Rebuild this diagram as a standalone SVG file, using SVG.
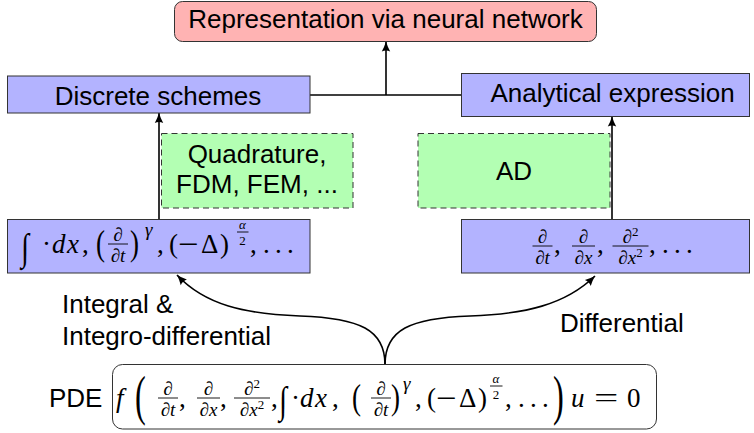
<svg xmlns="http://www.w3.org/2000/svg" width="754" height="433" viewBox="0 0 754 433">
<defs>
<style>
.blue{fill:#b3b3ff;stroke:#333;stroke-width:1}
.green{fill:#b3ffb3;stroke:#333;stroke-width:1;stroke-dasharray:6 4}
.red{fill:#ffb3b3;stroke:#333;stroke-width:1}
.pdebox{fill:#fff;stroke:#333;stroke-width:1}
.t{font-family:"Liberation Sans",Arial,sans-serif;font-size:26px;fill:#000}
.m{font-family:"Liberation Serif","DejaVu Serif",serif;font-size:27px;fill:#000}
.i{font-style:italic}
.sc{font-size:19px}
.ssc{font-size:13px}
.int{font-size:38px}
.p1{font-size:54px}
.p2{font-size:36px}
.bar{stroke:#000;stroke-width:0.9}
.conn{fill:none;stroke:#000;stroke-width:1.6}
</style>
<marker id="ah" viewBox="0 0 10 10" refX="10" refY="5" markerWidth="11" markerHeight="10" markerUnits="userSpaceOnUse" orient="auto">
<path d="M0,0.8 Q5,3.5 10,5 Q5,6.5 0,9.2 Q2,5 0,0.8 z" fill="#000"/>
</marker>
</defs>

<g id="connectors">
<path class="conn" d="M310,95 H461.5"/>
<path class="conn" d="M386,95 V41.5" marker-end="url(#ah)"/>
<path class="conn" d="M159,219.5 V113" marker-end="url(#ah)"/>
<path class="conn" d="M612,219.5 V116.5" marker-end="url(#ah)"/>
<path class="conn" d="M385,364.5 C385,330 360,318 300,316 C245,314 205,305 177,275" marker-end="url(#ah)"/>
<path class="conn" d="M385,364.5 C385,330 410,318 470,316 C525,314 565,305 595,276" marker-end="url(#ah)"/>
</g>

<g id="node-nn">
<rect class="red" x="174.5" y="1.5" width="422" height="40" rx="8"/>
<text class="t" x="385.5" y="27.5" text-anchor="middle">Representation via neural network</text>
</g>

<g id="node-discrete">
<rect class="blue" x="7.5" y="76" width="302.5" height="37"/>
<text class="t" x="158" y="105" text-anchor="middle">Discrete schemes</text>
</g>

<g id="node-analytical">
<rect class="blue" x="461.5" y="73.5" width="288" height="43"/>
<text class="t" x="612.5" y="102" text-anchor="middle">Analytical expression</text>
</g>

<g id="node-quadrature">
<rect class="green" x="161.5" y="133.5" width="191.5" height="74.5"/>
<text class="t" x="257" y="163" text-anchor="middle">Quadrature,</text>
<text class="t" x="257" y="193" text-anchor="middle">FDM, FEM, ...</text>
</g>

<g id="node-ad">
<rect class="green" x="418" y="133.5" width="192" height="74.5"/>
<text class="t" x="514" y="180" text-anchor="middle">AD</text>
</g>

<g id="node-integral-ops">
<rect class="blue" x="7.5" y="219.5" width="302.5" height="53.5"/>
<text class="m int" transform="translate(21 260) scale(0.75 1)">∫</text>
<text class="m" x="42" y="253">·</text>
<text class="m i" x="52" y="253">d</text>
<text class="m i" x="67" y="253">x</text>
<text class="m" x="82" y="253">,</text>
<text class="m p2" transform="translate(96 255) scale(0.75 1)">(</text>
<text class="m i sc" x="118" y="240.5" text-anchor="middle">∂</text>
<line class="bar" x1="108" y1="244" x2="128" y2="244"/>
<text class="m i sc" x="118" y="262" text-anchor="middle">∂t</text>
<text class="m p2" transform="translate(130 255) scale(0.75 1)">)</text>
<text class="m i sc" x="145" y="236">γ</text>
<text class="m" x="157" y="253">,</text>
<text class="m" x="169" y="253">(</text>
<text class="m" transform="translate(178 253) scale(1.35 1)">−</text>
<text class="m" x="201" y="253">Δ</text>
<text class="m" x="220" y="253">)</text>
<text class="m i ssc" x="242.5" y="228.5" text-anchor="middle">α</text>
<line class="bar" x1="237" y1="232" x2="248.5" y2="232"/>
<text class="m ssc" x="242.5" y="245" text-anchor="middle">2</text>
<text class="m" x="250" y="253">,</text>
<text class="m" x="263" y="253">.</text>
<text class="m" x="275" y="253">.</text>
<text class="m" x="287" y="253">.</text>
</g>

<g id="node-diff-ops">
<rect class="blue" x="461.5" y="219.5" width="288" height="53.5"/>
<text class="m i sc" x="542.5" y="242.5" text-anchor="middle">∂</text>
<line class="bar" x1="532.5" y1="246" x2="552.5" y2="246"/>
<text class="m i sc" x="542.5" y="264" text-anchor="middle">∂t</text>
<text class="m" x="554" y="253">,</text>
<text class="m i sc" x="583.5" y="242.5" text-anchor="middle">∂</text>
<line class="bar" x1="572" y1="246" x2="595" y2="246"/>
<text class="m i sc" x="583.5" y="264" text-anchor="middle">∂x</text>
<text class="m" x="597" y="253">,</text>
<text class="m sc" x="630.5" y="242.5" text-anchor="middle"><tspan class="i">∂</tspan><tspan class="ssc" dy="-7">2</tspan></text>
<line class="bar" x1="612.5" y1="246" x2="648.5" y2="246"/>
<text class="m sc" x="630.5" y="264" text-anchor="middle"><tspan class="i">∂x</tspan><tspan class="ssc" dy="-7">2</tspan></text>
<text class="m" x="649" y="253">,</text>
<text class="m" x="662" y="253">.</text>
<text class="m" x="674" y="253">.</text>
<text class="m" x="686" y="253">.</text>
</g>

<g id="node-pde">
<text class="t" x="49" y="407">PDE</text>
<rect class="pdebox" x="112.5" y="364.5" width="544" height="64.5" rx="10"/>
<text class="m i" x="116" y="407">f</text>
<text class="m p1" transform="translate(135 413.5) scale(0.6 1)">(</text>
<text class="m i sc" x="168" y="394.5" text-anchor="middle">∂</text>
<line class="bar" x1="158" y1="398" x2="178" y2="398"/>
<text class="m i sc" x="168" y="416" text-anchor="middle">∂t</text>
<text class="m" x="179" y="407">,</text>
<text class="m i sc" x="208.5" y="394.5" text-anchor="middle">∂</text>
<line class="bar" x1="197" y1="398" x2="220" y2="398"/>
<text class="m i sc" x="208.5" y="416" text-anchor="middle">∂x</text>
<text class="m" x="220" y="407">,</text>
<text class="m sc" x="252" y="394.5" text-anchor="middle"><tspan class="i">∂</tspan><tspan class="ssc" dy="-7">2</tspan></text>
<line class="bar" x1="234" y1="398" x2="270" y2="398"/>
<text class="m sc" x="252" y="416" text-anchor="middle"><tspan class="i">∂x</tspan><tspan class="ssc" dy="-7">2</tspan></text>
<text class="m" x="271" y="407">,</text>
<text class="m int" transform="translate(279 413) scale(0.75 1)">∫</text>
<text class="m" x="291" y="407">·</text>
<text class="m i" x="300" y="407">d</text>
<text class="m i" x="315" y="407">x</text>
<text class="m" x="332" y="407">,</text>
<text class="m p2" transform="translate(352 409) scale(0.75 1)">(</text>
<text class="m i sc" x="381" y="394.5" text-anchor="middle">∂</text>
<line class="bar" x1="371" y1="398" x2="391" y2="398"/>
<text class="m i sc" x="381" y="416" text-anchor="middle">∂t</text>
<text class="m p2" transform="translate(391 409) scale(0.75 1)">)</text>
<text class="m i sc" x="403" y="390">γ</text>
<text class="m" x="415" y="407">,</text>
<text class="m" x="427" y="407">(</text>
<text class="m" transform="translate(436 407) scale(1.35 1)">−</text>
<text class="m" x="459" y="407">Δ</text>
<text class="m" x="478" y="407">)</text>
<text class="m i ssc" x="496" y="382.5" text-anchor="middle">α</text>
<line class="bar" x1="490" y1="386" x2="502.5" y2="386"/>
<text class="m ssc" x="496" y="399" text-anchor="middle">2</text>
<text class="m" x="505" y="407">,</text>
<text class="m" x="518" y="407">.</text>
<text class="m" x="530" y="407">.</text>
<text class="m" x="542" y="407">.</text>
<text class="m p1" transform="translate(553 413.5) scale(0.6 1)">)</text>
<text class="m i" x="571" y="407">u</text>
<text class="m" transform="translate(594 407) scale(1.6 1)">=</text>
<text class="m" x="627" y="407">0</text>
</g>

<g id="edge-labels">
<text class="t" x="62" y="313">Integral &amp;</text>
<text class="t" x="62" y="345">Integro-differential</text>
<text class="t" x="560" y="332">Differential</text>
</g>
</svg>
